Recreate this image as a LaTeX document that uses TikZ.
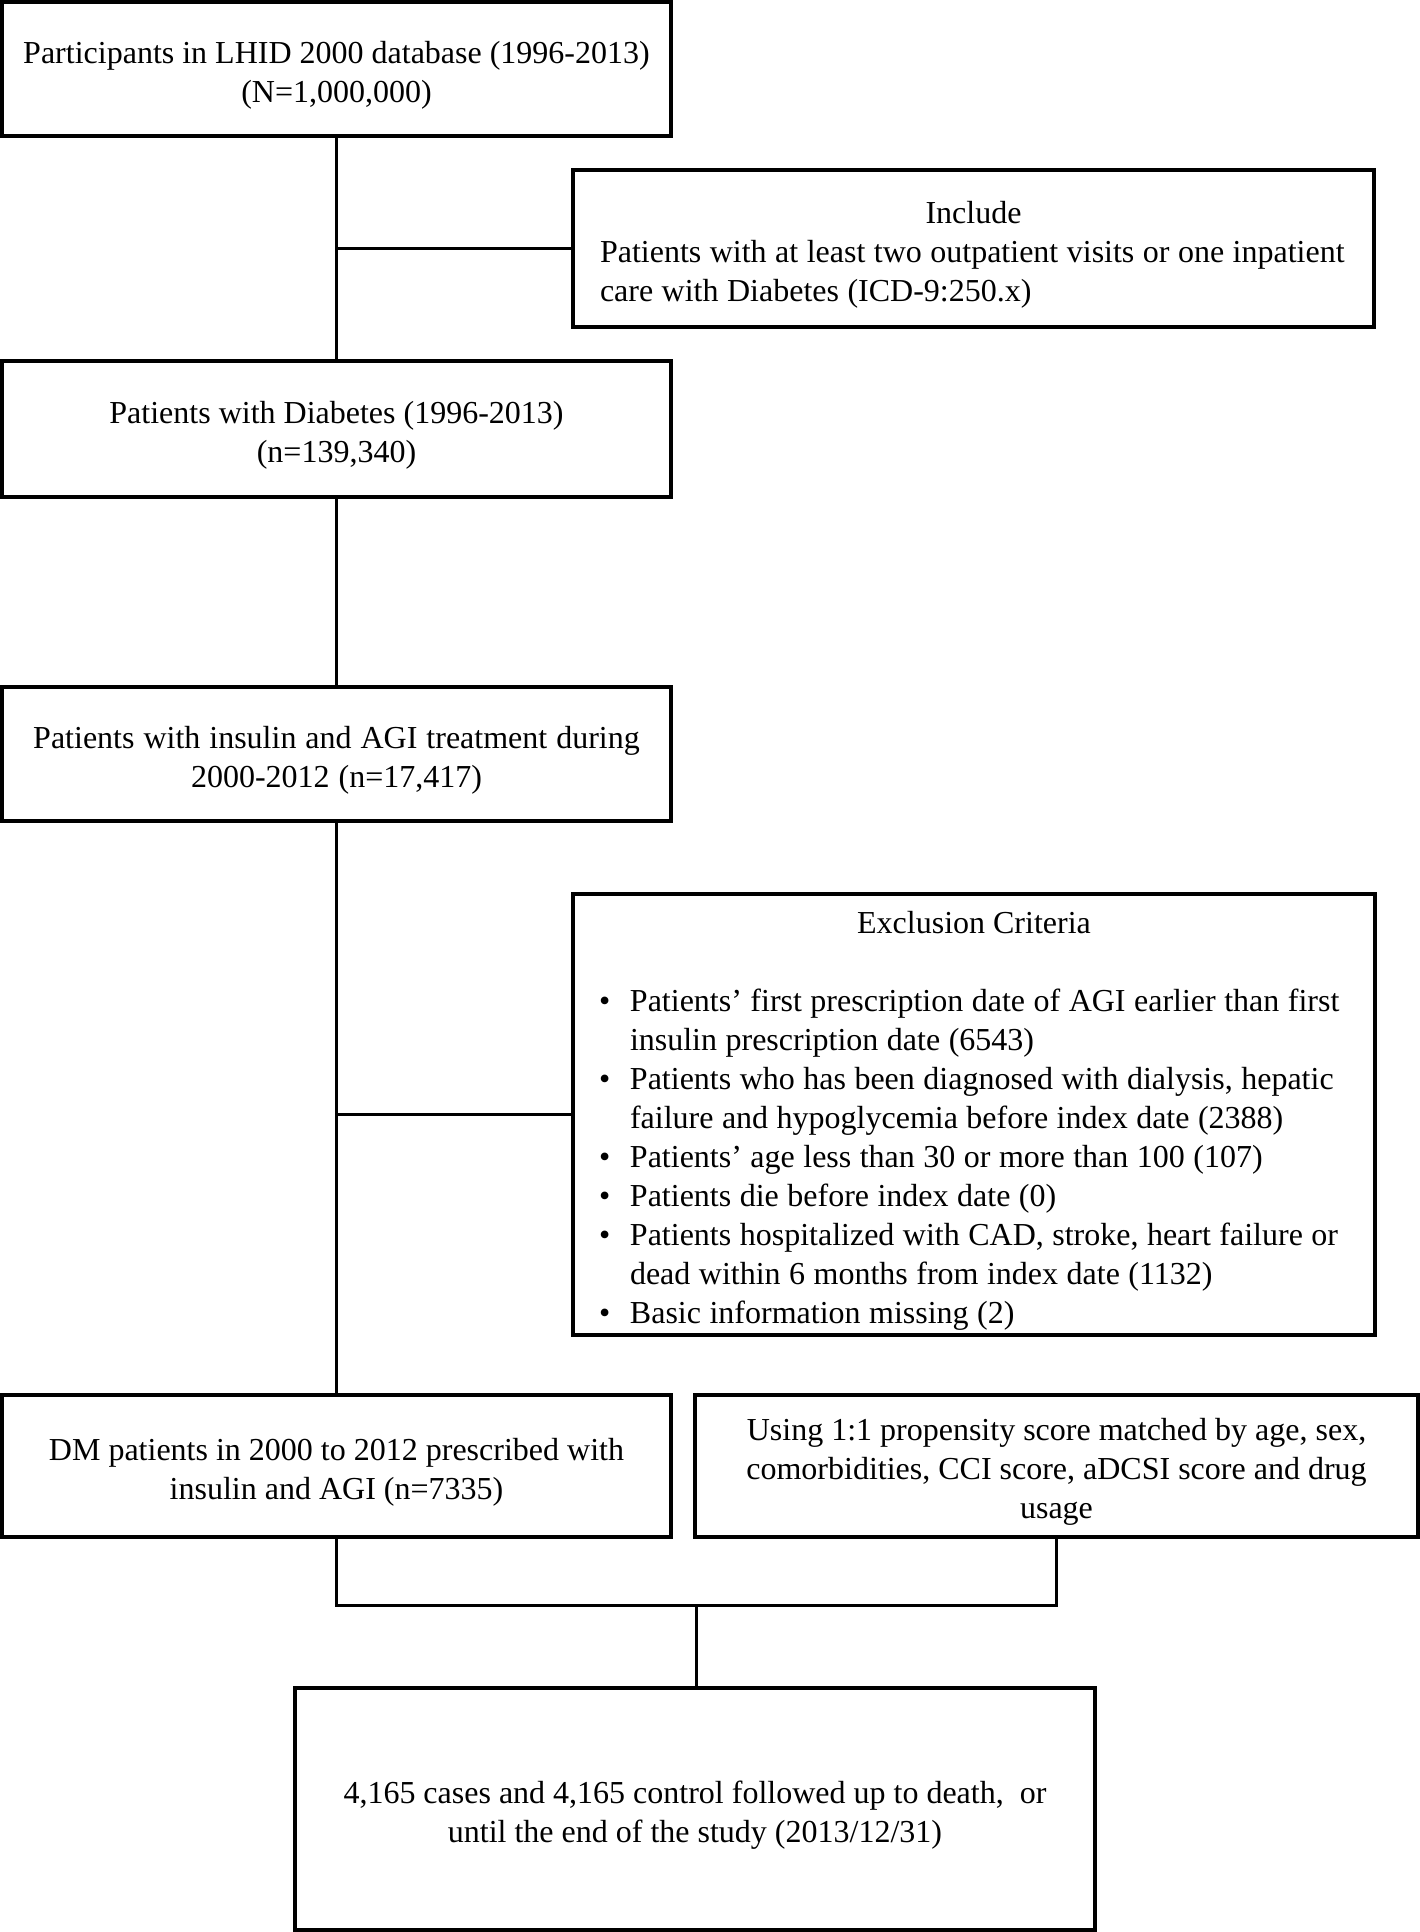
\documentclass[tikz,border=0pt]{standalone}
\usepackage{fontspec}
\setmainfont{Liberation Serif}
\usetikzlibrary{calc}
\newcommand{\exbul}{\makebox[31pt][l]{•}}
\newcommand{\exind}{\hspace*{31pt}}
\tikzset{
  flowbox/.style={draw=black, line width=3.4pt, rectangle, inner sep=0pt, align=center,
    font=\fontsize{32}{39}\selectfont,
    execute at begin node={\spaceskip=0.25em\relax\rule{0pt}{34pt}}},
  conn/.style={draw=black, line width=3pt}
}
\begin{document}
\begin{tikzpicture}[x=1pt, y=-1pt]
\useasboundingbox (0,0) rectangle (1420,1932);

\node[flowbox, minimum width=669, minimum height=134, text width=640] (b1) at (336.5,69)
  {Participants in LHID 2000 database (1996-2013)\\(N=1,000,000)};

\node[flowbox, minimum width=801, minimum height=157, text width=747, align=left] (incl) at (973.5,248.5)
  {\makebox[747pt]{Include}\\
   \spaceskip=0.265em\relax
   \mbox{Patients with at least two outpatient visits or one inpatient}\\
   care with Diabetes (ICD-9:250.x)};

\node[flowbox, minimum width=669, minimum height=136, text width=640] (b2) at (336.5,429)
  {Patients with Diabetes (1996-2013)\\(n=139,340)};

\node[flowbox, minimum width=669, minimum height=134, text width=640] (b3) at (336.5,754)
  {\spaceskip=0.28em\relax Patients with insulin and AGI treatment during\\2000-2012 (n=17,417)};

\node[flowbox, minimum width=802, minimum height=441, text width=750, align=left] (excl) at (974,1114.5)
  {\makebox[750pt]{Exclusion Criteria}\\[39pt]
   \spaceskip=0.265em\relax
   \exbul\mbox{Patients’ first prescription date of AGI earlier than first}\\
   \exind insulin prescription date (6543)\\
   \exbul\mbox{Patients who has been diagnosed with dialysis, hepatic}\\
   \exind failure and hypoglycemia before index date (2388)\\
   \exbul Patients’ age less than 30 or more than 100 (107)\\
   \exbul Patients die before index date (0)\\
   \exbul\mbox{Patients hospitalized with CAD, stroke, heart failure or}\\
   \exind dead within 6 months from index date (1132)\\
   \exbul Basic information missing (2)};

\node[flowbox, minimum width=669, minimum height=142, text width=640] (b4) at (336.5,1466)
  {DM patients in 2000 to 2012 prescribed with\\insulin and AGI (n=7335)};

\node[flowbox, minimum width=723, minimum height=142, text width=700] (b5) at (1056.5,1466)
  {Using 1:1 propensity score matched by age, sex,\\comorbidities, CCI score, aDCSI score and drug\\usage};

\node[flowbox, minimum width=800, minimum height=242, text width=780] (b6) at (695,1809)
  {4,165 cases and 4,165 control followed up to death,~ or\\until the end of the study (2013/12/31)};

% connectors
\draw[conn] (b1.south) -- (b2.north);
\draw[conn] (incl.west) -- (incl.west -| b1.south);
\draw[conn] (b2.south) -- (b3.north);
\draw[conn] (b3.south) -- (b4.north);
\draw[conn] (excl.west) -- (excl.west -| b3.south);
\path (b4.south) ++(0,67) coordinate (jl);
\coordinate (jr) at (jl -| b5.south);
\draw[conn] (b4.south) -- (jl) -- (jr) -- (b5.south);
\coordinate (jm) at ($(jl)!0.5!(jr)$);
\draw[conn] (jm) -- (jm |- b6.north);
\end{tikzpicture}
\end{document}
